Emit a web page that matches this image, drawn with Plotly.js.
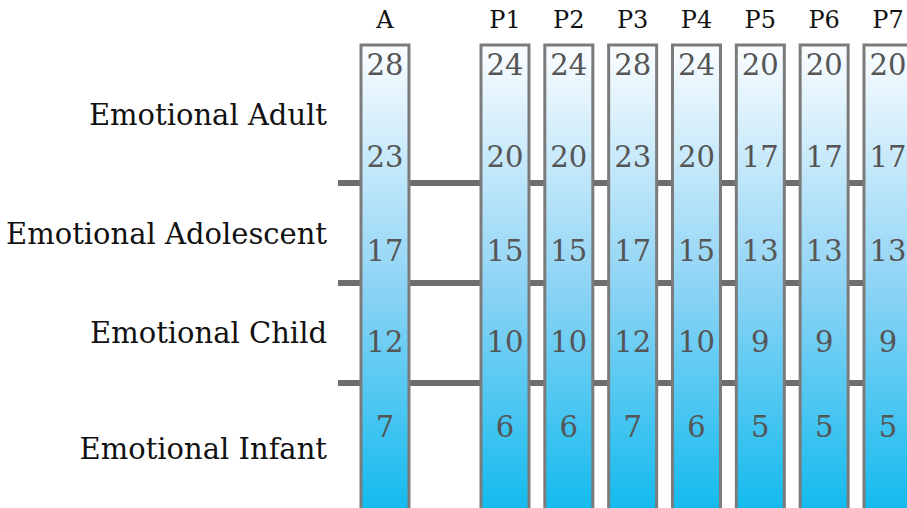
<!DOCTYPE html>
<html>
<head>
<meta charset="utf-8">
<script src="https://cdn.plot.ly/plotly-3.0.1.min.js"></script>
<style>html,body{margin:0;padding:0;background:#fff;}#chart{width:907px;height:508px;}</style>
</head>
<body>
<div id="chart"></div>
<script>
// ---- data ----
const columns = ['A', 'P1', 'P2', 'P3', 'P4', 'P5', 'P6', 'P7'];
const adultUpper = [28, 24, 24, 28, 24, 20, 20, 20];
const adultLower = [23, 20, 20, 23, 20, 17, 17, 17];
const adolescent = [17, 15, 15, 17, 15, 13, 13, 13];
const child = [12, 10, 10, 12, 10, 9, 9, 9];
const infant = [7, 6, 6, 7, 6, 5, 5, 5];
const rowLabels = ['Emotional Adult', 'Emotional Adolescent', 'Emotional Child', 'Emotional Infant'];

// ---- layout constants ----
const A_OFFSET = 1.88;     // gap between A and P columns (axis units)
const BAR_HALF = 0.376;
const BAR_BASE = -0.4, BAR_TOP = 4.38;
const numberRows = [4.15, 3.23, 2.29, 1.38, 0.53];
const labelRows = [3.68, 2.49, 1.50, 0.34];
const headerY = 4.61;
const serif = 'DejaVu Serif, serif';

const xpos = columns.map((c, i) => i === 0 ? 1 - A_OFFSET : i);

const traces = [];
columns.forEach((c, i) => {
  const x = xpos[i];
  traces.push({
    type: 'scatter', mode: 'lines', fill: 'toself',
    x: [x - BAR_HALF, x + BAR_HALF, x + BAR_HALF, x - BAR_HALF, x - BAR_HALF],
    y: [BAR_BASE, BAR_BASE, BAR_TOP, BAR_TOP, BAR_BASE],
    line: {color: '#7b7b7b', width: 3},
    fillgradient: {type: 'vertical', start: -0.25, stop: BAR_TOP,
      colorscale: [[0, '#14bbee'], [0.486, '#8fd4f5'], [1, '#fbfdff']]},
    hoverinfo: 'skip', showlegend: false
  });
});

const valueRows = [adultUpper, adultLower, adolescent, child, infant];
valueRows.forEach((vals, r) => {
  traces.push({
    type: 'scatter', mode: 'text',
    x: xpos, y: xpos.map(() => numberRows[r]),
    text: vals.map(String), textposition: 'middle center',
    textfont: {family: serif, size: 29, color: '#555555'},
    hoverinfo: 'skip', showlegend: false, cliponaxis: false
  });
});

traces.push({
  type: 'scatter', mode: 'text',
  x: xpos, y: xpos.map(() => headerY),
  text: columns, textposition: 'middle center',
  textfont: {family: serif, size: 24, color: '#111'},
  hoverinfo: 'skip', showlegend: false, cliponaxis: false
});

const shapes = [1, 2, 3].map(v => ({
  type: 'line', xref: 'paper', yref: 'y', x0: 0, x1: 1, y0: v, y1: v,
  line: {color: '#6e6e6e', width: 6}, layer: 'below'
}));

const layout = {
  width: 907, height: 508,
  margin: {l: 338, r: 0, t: 0, b: 0},
  paper_bgcolor: '#fff', plot_bgcolor: '#fff',
  showlegend: false,
  xaxis: {range: [1 - 2.616, 1 + 402 / 63.83], showgrid: false, zeroline: false,
    showticklabels: false, ticks: '', showline: false, fixedrange: true},
  yaxis: {range: [-0.25, 4.83], showgrid: false, zeroline: false, showline: false,
    tickmode: 'array', tickvals: labelRows, ticktext: rowLabels, ticks: '',
    ticklabelstandoff: 10,
    tickfont: {family: serif, size: 29, color: '#111'}, fixedrange: true},
  shapes: shapes
};

Plotly.newPlot('chart', traces, layout, {displayModeBar: false, staticPlot: true});
</script>
</body>
</html>
